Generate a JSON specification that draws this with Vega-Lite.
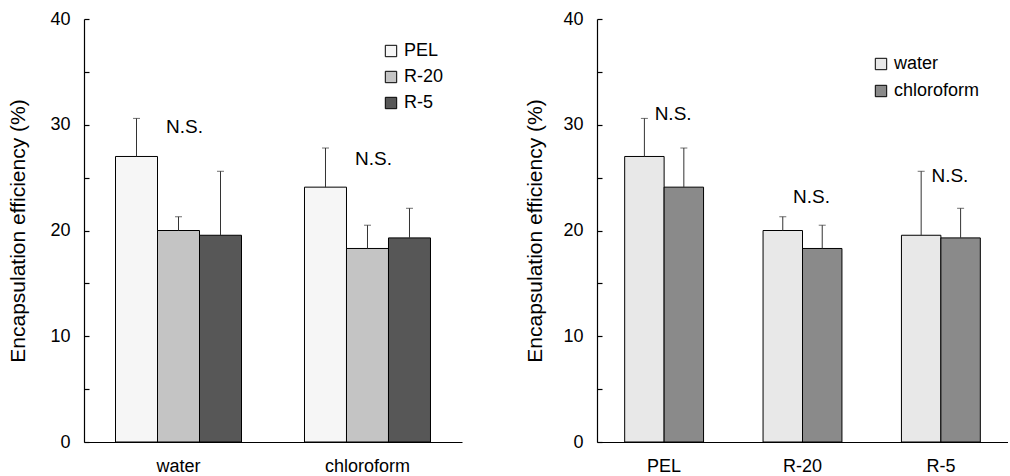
{
  "$schema": "https://vega.github.io/schema/vega-lite/v6.json",
  "padding": {"left": 7, "top": 10, "right": 0, "bottom": 0},
  "background": "white",
  "config": {
    "view": {"stroke": null},
    "font": "Liberation Sans",
    "axis": {"domainColor": "black", "tickColor": "black", "labelColor": "black", "titleColor": "black", "grid": false, "labelFont": "Liberation Sans", "titleFont": "Liberation Sans", "domainWidth": 1.2, "tickWidth": 1.2},
    "legend": {"labelFont": "Liberation Sans", "labelColor": "black"},
    "text": {"font": "Liberation Sans"}
  },
  "datasets": {
    "ee": [
      {"formulation": "PEL", "solvent": "water", "mean": 27.0, "upper": 30.6},
      {"formulation": "R-20", "solvent": "water", "mean": 20.0, "upper": 21.3},
      {"formulation": "R-5", "solvent": "water", "mean": 19.55, "upper": 25.6},
      {"formulation": "PEL", "solvent": "chloroform", "mean": 24.1, "upper": 27.8},
      {"formulation": "R-20", "solvent": "chloroform", "mean": 18.3, "upper": 20.5},
      {"formulation": "R-5", "solvent": "chloroform", "mean": 19.3, "upper": 22.1}
    ],
    "nsLeft": [
      {"solvent": "water", "y": 29.8, "label": "N.S."},
      {"solvent": "chloroform", "y": 26.8, "label": "N.S."}
    ],
    "nsRight": [
      {"formulation": "PEL", "y": 31.0, "label": "N.S."},
      {"formulation": "R-20", "y": 23.2, "label": "N.S."},
      {"formulation": "R-5", "y": 25.2, "label": "N.S."}
    ]
  },
  "spacing": 62,
  "resolve": {"scale": {"x": "independent", "xOffset": "independent", "color": "independent"}, "legend": {"color": "independent"}},
  "hconcat": [
    {
      "width": 378,
      "height": 423,
      "layer": [
        {
          "data": {"name": "ee"},
          "mark": {"type": "bar", "stroke": "black", "strokeWidth": 1},
          "encoding": {
            "x": {"field": "solvent", "type": "nominal", "sort": ["water", "chloroform"], "scale": {"paddingInner": 0.3333, "paddingOuter": 0.1667}, "title": null, "axis": {"ticks": false, "labelAngle": 0, "labelPadding": 15, "labelFontSize": 18}},
            "xOffset": {"field": "formulation", "type": "nominal", "sort": ["PEL", "R-20", "R-5"], "scale": {"paddingInner": 0, "paddingOuter": 0}},
            "y": {"field": "mean", "type": "quantitative", "scale": {"domain": [0, 40]}, "title": "Encapsulation efficiency (%)", "axis": {"values": [0, 5, 10, 15, 20, 25, 30, 35, 40], "labelExpr": "datum.value % 10 === 0 ? datum.label : ''", "tickSize": -5, "labelPadding": 19, "labelFontSize": 18, "titleFontSize": 21, "titleFontWeight": "normal", "titlePadding": 21}},
            "color": {"field": "formulation", "type": "nominal", "sort": ["PEL", "R-20", "R-5"], "scale": {"domain": ["PEL", "R-20", "R-5"], "range": ["#f6f6f6", "#c4c4c4", "#575757"]}, "legend": {"title": null, "orient": "none", "legendX": 298, "legendY": 23, "symbolType": "square", "symbolSize": 130, "symbolStrokeColor": "black", "symbolStrokeWidth": 1, "labelFontSize": 18, "rowPadding": 8, "labelOffset": 4}}
          }
        },
        {
          "data": {"name": "ee"},
          "mark": {"type": "rule", "color": "#333", "strokeWidth": 1},
          "encoding": {
            "x": {"field": "solvent", "type": "nominal", "sort": ["water", "chloroform"]},
            "xOffset": {"field": "formulation", "type": "nominal", "sort": ["PEL", "R-20", "R-5"]},
            "y": {"field": "mean", "type": "quantitative"},
            "y2": {"field": "upper"}
          }
        },
        {
          "data": {"name": "ee"},
          "mark": {"type": "tick", "color": "#333", "size": 7, "thickness": 1},
          "encoding": {
            "x": {"field": "solvent", "type": "nominal", "sort": ["water", "chloroform"]},
            "xOffset": {"field": "formulation", "type": "nominal", "sort": ["PEL", "R-20", "R-5"]},
            "y": {"field": "upper", "type": "quantitative"}
          }
        },
        {
          "data": {"name": "nsLeft"},
          "mark": {"type": "text", "fontSize": 19, "dx": 6, "color": "black"},
          "encoding": {
            "x": {"field": "solvent", "type": "nominal", "sort": ["water", "chloroform"]},
            "y": {"field": "y", "type": "quantitative"},
            "text": {"field": "label"}
          }
        }
      ]
    },
    {
      "width": 411,
      "height": 423,
      "layer": [
        {
          "data": {"name": "ee"},
          "mark": {"type": "bar", "stroke": "black", "strokeWidth": 1},
          "encoding": {
            "x": {"field": "formulation", "type": "nominal", "sort": ["PEL", "R-20", "R-5"], "scale": {"paddingInner": 0.43, "paddingOuter": 0.2}, "title": null, "axis": {"ticks": false, "labelAngle": 0, "labelPadding": 15, "labelFontSize": 18}},
            "xOffset": {"field": "solvent", "type": "nominal", "sort": ["water", "chloroform"], "scale": {"paddingInner": 0, "paddingOuter": 0}},
            "y": {"field": "mean", "type": "quantitative", "scale": {"domain": [0, 40]}, "title": "Encapsulation efficiency (%)", "axis": {"values": [0, 5, 10, 15, 20, 25, 30, 35, 40], "labelExpr": "datum.value % 10 === 0 ? datum.label : ''", "tickSize": -5, "labelPadding": 19, "labelFontSize": 18, "titleFontSize": 21, "titleFontWeight": "normal", "titlePadding": 17}},
            "color": {"field": "solvent", "type": "nominal", "sort": ["water", "chloroform"], "scale": {"domain": ["water", "chloroform"], "range": ["#e8e8e8", "#8a8a8a"]}, "legend": {"title": null, "orient": "none", "legendX": 275, "legendY": 36, "symbolType": "square", "symbolSize": 130, "symbolStrokeColor": "black", "symbolStrokeWidth": 1, "labelFontSize": 18, "rowPadding": 9, "labelOffset": 4}}
          }
        },
        {
          "data": {"name": "ee"},
          "mark": {"type": "rule", "color": "#333", "strokeWidth": 1},
          "encoding": {
            "x": {"field": "formulation", "type": "nominal", "sort": ["PEL", "R-20", "R-5"]},
            "xOffset": {"field": "solvent", "type": "nominal", "sort": ["water", "chloroform"]},
            "y": {"field": "mean", "type": "quantitative"},
            "y2": {"field": "upper"}
          }
        },
        {
          "data": {"name": "ee"},
          "mark": {"type": "tick", "color": "#333", "size": 7, "thickness": 1},
          "encoding": {
            "x": {"field": "formulation", "type": "nominal", "sort": ["PEL", "R-20", "R-5"]},
            "xOffset": {"field": "solvent", "type": "nominal", "sort": ["water", "chloroform"]},
            "y": {"field": "upper", "type": "quantitative"}
          }
        },
        {
          "data": {"name": "nsRight"},
          "mark": {"type": "text", "fontSize": 19, "dx": 9, "color": "black"},
          "encoding": {
            "x": {"field": "formulation", "type": "nominal", "sort": ["PEL", "R-20", "R-5"]},
            "y": {"field": "y", "type": "quantitative"},
            "text": {"field": "label"}
          }
        }
      ]
    }
  ]
}
